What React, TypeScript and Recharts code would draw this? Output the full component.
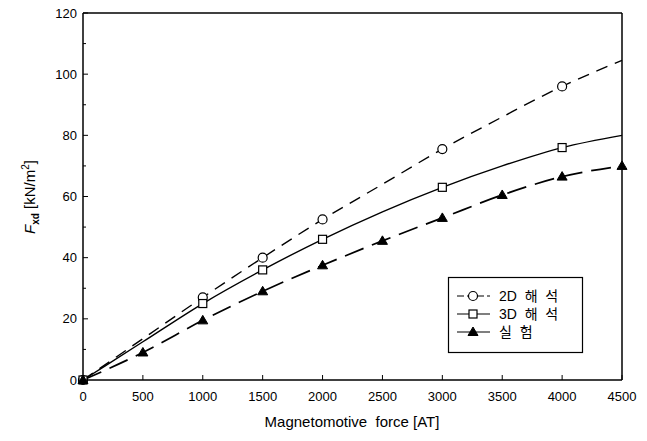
import React from 'react';
import {
  LineChart,
  Line,
  XAxis,
  YAxis,
} from 'recharts';

// magnetomotive force [AT]
const mmf = [0, 500, 1000, 1500, 2000, 2500, 3000, 3500, 4000, 4500];

// F_xd [kN/m^2]
const fem2d = [0, 13.5, 27, 40, 52.5, 64, 75.5, 86, 96, 104.5];
const fem3d = [0, 12.5, 25, 36, 46, 55, 63, 70, 76, 80];
const test = [0, 9, 19.5, 29, 37.5, 45.5, 53, 60.5, 66.5, 70];

// which points carry a marker
const mark2d = [1, 0, 1, 1, 1, 0, 1, 0, 1, 0];
const mark3d = [1, 0, 1, 1, 1, 0, 1, 0, 1, 0];
const markTest = [1, 1, 1, 1, 1, 1, 1, 1, 1, 1];

const xTicks = [0, 500, 1000, 1500, 2000, 2500, 3000, 3500, 4000, 4500];
const yTicks = [0, 10, 20, 30, 40, 50, 60, 70, 80, 90, 100, 110, 120];

const seriesNames = ['2D 해 석', '3D 해 석', '실 험'];

const FONT = "'Liberation Sans', Arial, 'Noto Sans CJK KR', sans-serif";

const toRows = (ys: number[], marks: number[]) =>
  mmf.map((x, i) => ({ x, y: ys[i], mark: marks[i] }));

const rows2d = toRows(fem2d, mark2d);
const rows3d = toRows(fem3d, mark3d);
const rowsTest = toRows(test, markTest);

const Circle = ({ cx, cy }: any) => (
  <circle cx={cx} cy={cy} r={4.5} fill="#fff" stroke="#000" strokeWidth={1.2} />
);
const Square = ({ cx, cy }: any) => (
  <rect x={cx - 4} y={cy - 4} width={8} height={8} fill="#fff" stroke="#000" strokeWidth={1.2} />
);
const Triangle = ({ cx, cy }: any) => (
  <path d={`M${cx},${cy - 5} L${cx + 5},${cy + 3.5} L${cx - 5},${cy + 3.5} Z`} fill="#000" stroke="#000" />
);

const dotWith = (Shape: any) => (props: any) => {
  const { cx, cy, payload, index } = props;
  if (!payload.mark) return <g key={index} />;
  return <Shape key={index} cx={cx} cy={cy} />;
};

const XTick = ({ x, y, payload }: any) => (
  <g>
    <line x1={x} y1={y} x2={x} y2={y - 5} stroke="#000" />
    <text x={x} y={y + 21} textAnchor="middle" fontSize={13} fontFamily={FONT} fill="#000">
      {payload.value}
    </text>
  </g>
);

const YTick = ({ x, y, payload }: any) => {
  const major = payload.value % 20 === 0;
  return (
    <g>
      <line x1={x} y1={y} x2={x + (major ? 5 : 3)} y2={y} stroke="#000" />
      {major && (
        <text x={x - 6} y={y + 4.5} textAnchor="end" fontSize={13} fontFamily={FONT} fill="#000">
          {payload.value}
        </text>
      )}
    </g>
  );
};

const legendItems = [
  { name: seriesNames[0], dash: '7 3', Shape: Circle },
  { name: seriesNames[1], dash: undefined, Shape: Square },
  { name: seriesNames[2], dash: undefined, Shape: Triangle },
];

export default function App() {
  return (
    <div style={{ position: 'absolute', left: 0, top: 0, width: 647, height: 441, background: '#fff' }}>
      <LineChart width={647} height={441} margin={{ top: 12, right: 24, left: 0, bottom: 31 }}>
        <XAxis
          type="number"
          dataKey="x"
          domain={[0, 4500]}
          ticks={xTicks}
          interval={0}
          tickSize={0}
          tickMargin={0}
          tickLine={false}
          tick={<XTick />}
          height={30}
          axisLine={{ stroke: '#000', strokeWidth: 1.5 }}
        />
        <XAxis
          xAxisId="top"
          orientation="top"
          type="number"
          domain={[0, 4500]}
          tick={false}
          tickLine={false}
          height={1}
          axisLine={{ stroke: '#000', strokeWidth: 1.5 }}
        />
        <YAxis
          type="number"
          domain={[0, 120]}
          ticks={yTicks}
          interval={0}
          width={83}
          tickSize={0}
          tickMargin={0}
          tickLine={false}
          tick={<YTick />}
          axisLine={{ stroke: '#000', strokeWidth: 1.5 }}
        />
        <YAxis
          yAxisId="right"
          orientation="right"
          type="number"
          domain={[0, 120]}
          tick={false}
          tickLine={false}
          width={1}
          axisLine={{ stroke: '#000', strokeWidth: 1.5 }}
        />
        <Line
          data={rows2d}
          dataKey="y"
          name={seriesNames[0]}
          type="monotone"
          stroke="#000"
          strokeWidth={1.4}
          strokeDasharray="12 8"
          dot={dotWith(Circle)}
          activeDot={false}
          isAnimationActive={false}
        />
        <Line
          data={rows3d}
          dataKey="y"
          name={seriesNames[1]}
          type="monotone"
          stroke="#000"
          strokeWidth={1.4}
          dot={dotWith(Square)}
          activeDot={false}
          isAnimationActive={false}
        />
        <Line
          data={rowsTest}
          dataKey="y"
          name={seriesNames[2]}
          type="monotone"
          stroke="#000"
          strokeWidth={1.7}
          strokeDasharray="20 9"
          dot={dotWith(Triangle)}
          activeDot={false}
          isAnimationActive={false}
        />
        <g transform="translate(448,277)">
          <rect x={0.5} y={0.5} width={134} height={75} fill="#fff" stroke="#000" strokeWidth={1.2} />
          {legendItems.map((it, i) => {
            const cy = 19 + i * 18;
            return (
              <g key={it.name}>
                <line x1={9} y1={cy} x2={42} y2={cy} stroke="#000" strokeWidth={1.2} strokeDasharray={it.dash} />
                <it.Shape cx={25} cy={cy} />
                <text x={51} y={cy + 5} fontSize={14} fontFamily={FONT} fill="#000" style={{ whiteSpace: 'pre' }}>
                  {it.name.replace(/ /g, '  ')}
                </text>
              </g>
            );
          })}
        </g>
        <text x={352} y={427} textAnchor="middle" fontSize={15} fontFamily={FONT} fill="#000" style={{ whiteSpace: 'pre' }}>
          Magnetomotive  force [AT]
        </text>
        <text
          transform="translate(35,197) rotate(-90)"
          textAnchor="middle"
          fontSize={15}
          fontFamily={FONT}
          fill="#000"
          style={{ whiteSpace: 'pre' }}
        >
          <tspan fontStyle="italic">F</tspan>
          <tspan fontSize={10} fontWeight="bold" dy={4}>xd</tspan>
          <tspan dy={-4}> [kN/m</tspan>
          <tspan fontSize={10} dy={-6}>2</tspan>
          <tspan dy={6}>]</tspan>
        </text>
      </LineChart>
    </div>
  );
}
